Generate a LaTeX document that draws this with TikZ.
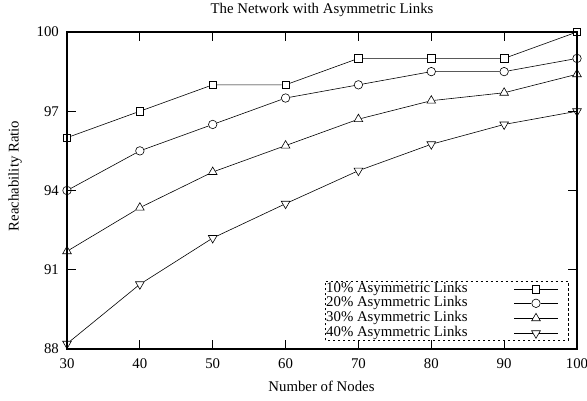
\documentclass[tikz,border=0pt]{standalone}
\usepackage{fontspec}
\setmainfont{Liberation Serif}
\usepackage{tikz}
\usetikzlibrary{shapes.geometric}

\begin{document}
\begin{tikzpicture}[
  font=\fontsize{14.8}{17}\selectfont,
  frame/.style={line width=1.2pt},
  curve/.style={line width=0.6pt},
  tick/.style={line width=1.2pt},
  sqmark/.style={draw, rectangle, minimum size=7.5pt, inner sep=0pt, line width=0.6pt},
  cimark/.style={draw, circle, minimum size=8.5pt, inner sep=0pt, line width=0.6pt},
  upmark/.style={draw, regular polygon, regular polygon sides=3, minimum size=10pt, inner sep=0pt, line width=0.6pt},
  dnmark/.style={upmark, shape border rotate=180},
  legbox/.style={draw, dashed, line width=0.8pt, dash pattern=on 2.5pt off 2.5pt}
]
  \useasboundingbox (0,0) rectangle (587pt,401pt);

  % labels around the plot
  \node (title) at (322pt,391pt) {The Network with Asymmetric Links};
  \node[rotate=90] (ylab) at (15pt,225pt) {Reachability Ratio};
  \node (xlab) at (321.5pt,14.5pt) {Number of Nodes};

  \begin{scope}[x=7.2857pt, y=26.417pt, shift={(-151.571pt,-2272.7pt)}]
    % frame and ticks
    \coordinate (ll) at (30,88);
    \coordinate (ur) at (100,100);
    \draw[frame] (ll) rectangle (ur);
    \foreach \x in {30,40,...,100} {
      \draw[tick] (\x,88) -- ++(0,9pt);
      \draw[tick] (\x,100) -- ++(0,-9pt);
      \node[anchor=base] (xt\x) at ([yshift=-20pt]\x,88) {\x};
    }
    \foreach \y in {88,91,...,100} {
      \draw[tick] (30,\y) -- ++(9pt,0);
      \draw[tick] (100,\y) -- ++(-9pt,0);
      \node[anchor=east, inner sep=0pt] (yt\y) at ([xshift=-8pt]30,\y) {\y};
    }

    % 10% asymmetric links
    \foreach \x/\y [count=\i] in {30/96,40/97,50/98,60/98,70/99,80/99,90/99,100/100}
      \node[sqmark] (a\i) at (\x,\y) {};
    \draw[curve] (a1) -- (a2) -- (a3) -- (a4) -- (a5) -- (a6) -- (a7) -- (a8);

    % 20% asymmetric links
    \foreach \x/\y [count=\i] in {30/94,40/95.5,50/96.5,60/97.5,70/98,80/98.5,90/98.5,100/99}
      \node[cimark] (b\i) at (\x,\y) {};
    \draw[curve] (b1) -- (b2) -- (b3) -- (b4) -- (b5) -- (b6) -- (b7) -- (b8);

    % 30% asymmetric links
    \foreach \x/\y [count=\i] in {30/91.7,40/93.35,50/94.7,60/95.7,70/96.7,80/97.4,90/97.7,100/98.4}
      \node[upmark] (c\i) at (\x,\y) {};
    \draw[curve] (c1) -- (c2) -- (c3) -- (c4) -- (c5) -- (c6) -- (c7) -- (c8);

    % 40% asymmetric links
    \foreach \x/\y [count=\i] in {30/88.2,40/90.45,50/92.2,60/93.5,70/94.75,80/95.75,90/96.5,100/97}
      \node[dnmark] (d\i) at (\x,\y) {};
    \draw[curve] (d1) -- (d2) -- (d3) -- (d4) -- (d5) -- (d6) -- (d7) -- (d8);
  \end{scope}

  % key
  \draw[legbox] (325pt,60.5pt) rectangle (568pt,120pt);
  \foreach \t/\s/\h [count=\k] in {10/sqmark/111.7,20/cimark/97.7,30/upmark/82.7,40/dnmark/67.7} {
    \node[anchor=west, inner sep=0pt] (key\k) at (326pt,\h pt) {\t\% Asymmetric Links};
    \coordinate (kl\k) at (514pt,\h pt);
    \coordinate (kr\k) at (558pt,\h pt);
    \node[\s] (km\k) at (536pt,\h pt) {};
    \draw[curve] (kl\k) -- (km\k) -- (kr\k);
  }
\end{tikzpicture}
\end{document}
